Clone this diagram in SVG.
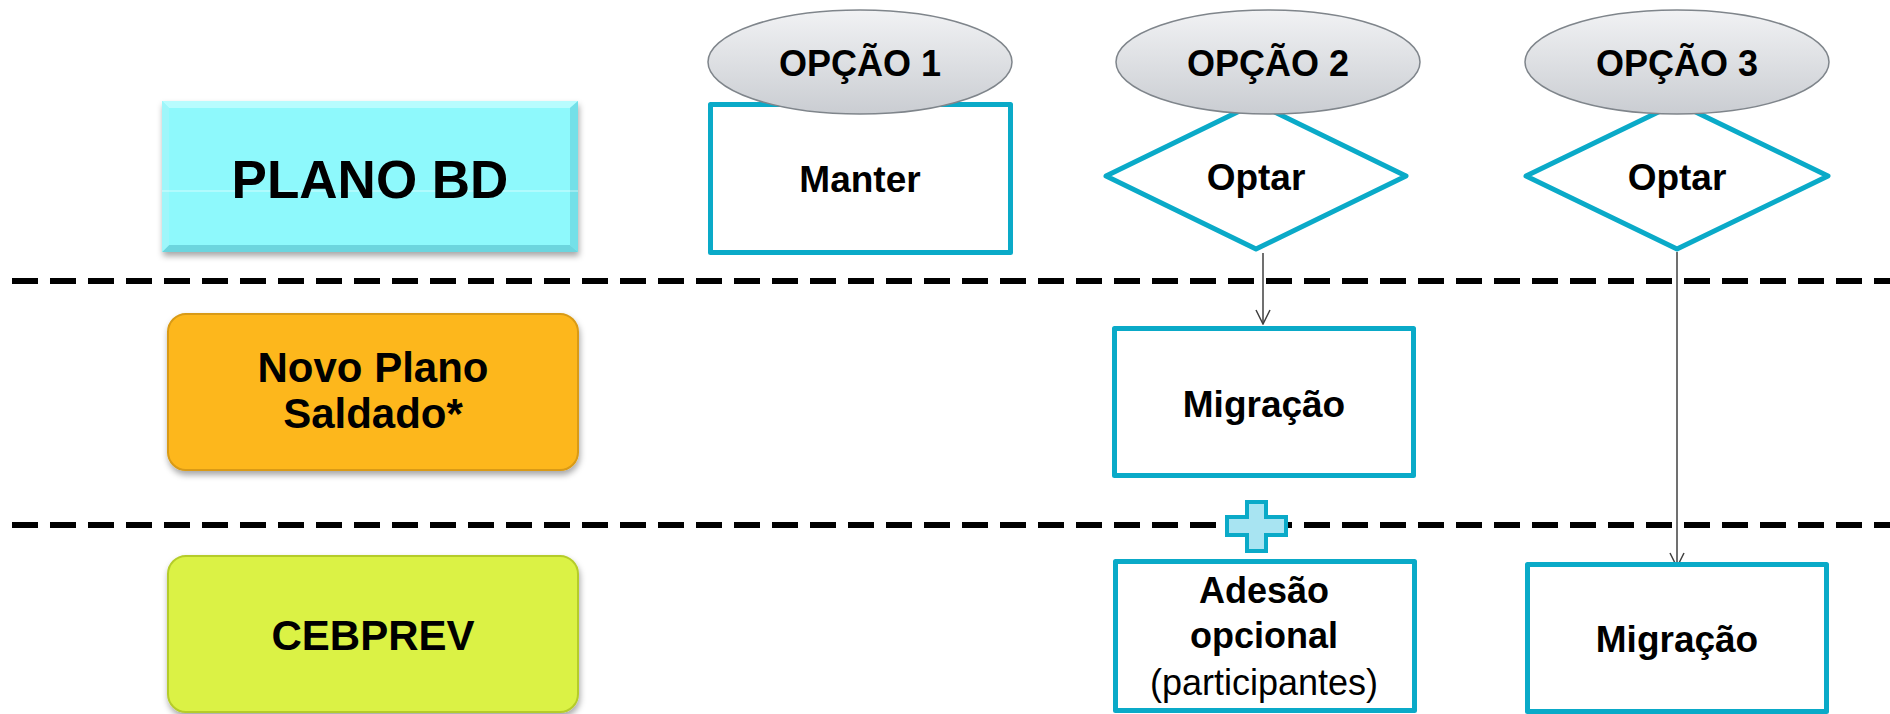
<svg xmlns="http://www.w3.org/2000/svg" width="1890" height="714" viewBox="0 0 1890 714">
<style>
.t{font-family:"Liberation Sans",Arial,sans-serif;font-weight:bold;fill:#000;text-anchor:middle}
.r{font-family:"Liberation Sans",Arial,sans-serif;font-weight:normal;fill:#000;text-anchor:middle}
.box{fill:#fff;stroke:#0AAAC8;stroke-width:5;stroke-linejoin:round}
.opt{fill:url(#gg);stroke:#7F858B;stroke-width:1.5}
.dash{stroke:#000;stroke-width:6;stroke-dasharray:26 12;fill:none}
.con{stroke:#404040;stroke-width:1.5;fill:none}
</style>
<defs>
<linearGradient id="gg" x1="0" y1="0" x2="0" y2="1">
<stop offset="0" stop-color="#F1F2F4"/>
<stop offset="1" stop-color="#CACDD2"/>
</linearGradient>
<filter id="sh" x="-10%" y="-10%" width="120%" height="130%">
<feDropShadow dx="1" dy="4" stdDeviation="3" flood-color="#000" flood-opacity="0.35"/>
</filter>
<marker id="arr" viewBox="0 0 16 16" refX="15" refY="8" markerWidth="16" markerHeight="16" orient="auto" markerUnits="userSpaceOnUse">
<path d="M1,1 L15,8 L1,15" fill="none" stroke="#404040" stroke-width="1.5"/>
</marker>
</defs>
<rect width="1890" height="714" fill="#fff"/>
<g id="separators">
<line class="dash" x1="12" y1="281" x2="1890" y2="281"/>
<line class="dash" x1="12" y1="525" x2="1890" y2="525"/>
</g>
<g id="plano-bd">
<rect x="162" y="101" width="416" height="151" fill="#8EF9FC" filter="url(#sh)"/>
<polygon points="162,101 578,101 570,108 169,108" fill="#B8FCFE"/>
<polygon points="578,101 578,252 570,245 570,108" fill="#74E0E8"/>
<polygon points="162,252 578,252 570,245 169,245" fill="#6CD5DE"/>
<polygon points="162,101 169,108 169,245 162,252" fill="#9EF6FA"/>
<line x1="162" y1="191" x2="578" y2="191" stroke="#fff" stroke-width="1" opacity="0.6"/>
<text class="t" x="370" y="198" font-size="53">PLANO BD</text>
</g>
<g id="novo-plano">
<rect x="168" y="314" width="410" height="156" rx="18" fill="#FDB71F" stroke="#D99A12" stroke-width="2" filter="url(#sh)"/>
<text class="t" x="373" y="382" font-size="42">Novo Plano</text>
<text class="t" x="373" y="428" font-size="42">Saldado*</text>
</g>
<g id="cebprev">
<rect x="168" y="556" width="410" height="156" rx="18" fill="#DBF244" stroke="#B5CC2A" stroke-width="2" filter="url(#sh)"/>
<text class="t" x="373" y="650" font-size="42">CEBPREV</text>
</g>
<g id="connectors">
<line class="con" x1="1263" y1="253" x2="1263" y2="324" marker-end="url(#arr)"/>
<line class="con" x1="1677" y1="252" x2="1677" y2="567" marker-end="url(#arr)"/>
</g>
<g id="manter">
<rect class="box" x="710.5" y="104.5" width="300" height="148"/>
<text class="t" x="860" y="192" font-size="37">Manter</text>
</g>
<g id="optar2">
<polygon class="box" points="1106,176 1256,103 1406,176 1256,249"/>
<text class="t" x="1256" y="190" font-size="37">Optar</text>
</g>
<g id="optar3">
<polygon class="box" points="1526,176 1677,103 1828,176 1677,249"/>
<text class="t" x="1677" y="190" font-size="37">Optar</text>
</g>
<g id="opcao1">
<ellipse class="opt" cx="860" cy="62" rx="152" ry="52"/>
<text class="t" x="860" y="76" font-size="36">OPÇÃO 1</text>
</g>
<g id="opcao2">
<ellipse class="opt" cx="1268" cy="62" rx="152" ry="52"/>
<text class="t" x="1268" y="76" font-size="36">OPÇÃO 2</text>
</g>
<g id="opcao3">
<ellipse class="opt" cx="1677" cy="62" rx="152" ry="52"/>
<text class="t" x="1677" y="76" font-size="36">OPÇÃO 3</text>
</g>
<g id="migracao2">
<rect class="box" x="1114.5" y="328.5" width="299" height="147"/>
<text class="t" x="1264" y="417" font-size="37">Migração</text>
</g>
<g id="plus">
<path d="M1247,502 H1266 V517 H1286 V535 H1266 V551 H1247 V535 H1227 V517 H1247 Z" fill="#A8E4F2" stroke="#0AAAC8" stroke-width="4" stroke-linejoin="miter"/>
</g>
<g id="adesao">
<rect class="box" x="1115.5" y="561.5" width="299" height="149"/>
<text class="t" x="1264" y="603" font-size="36">Adesão</text>
<text class="t" x="1264" y="648" font-size="36">opcional</text>
<text class="r" x="1264" y="695" font-size="36">(participantes)</text>
</g>
<g id="migracao3">
<rect class="box" x="1527.5" y="564.5" width="299" height="147"/>
<text class="t" x="1677" y="652" font-size="37">Migração</text>
</g>
</svg>
